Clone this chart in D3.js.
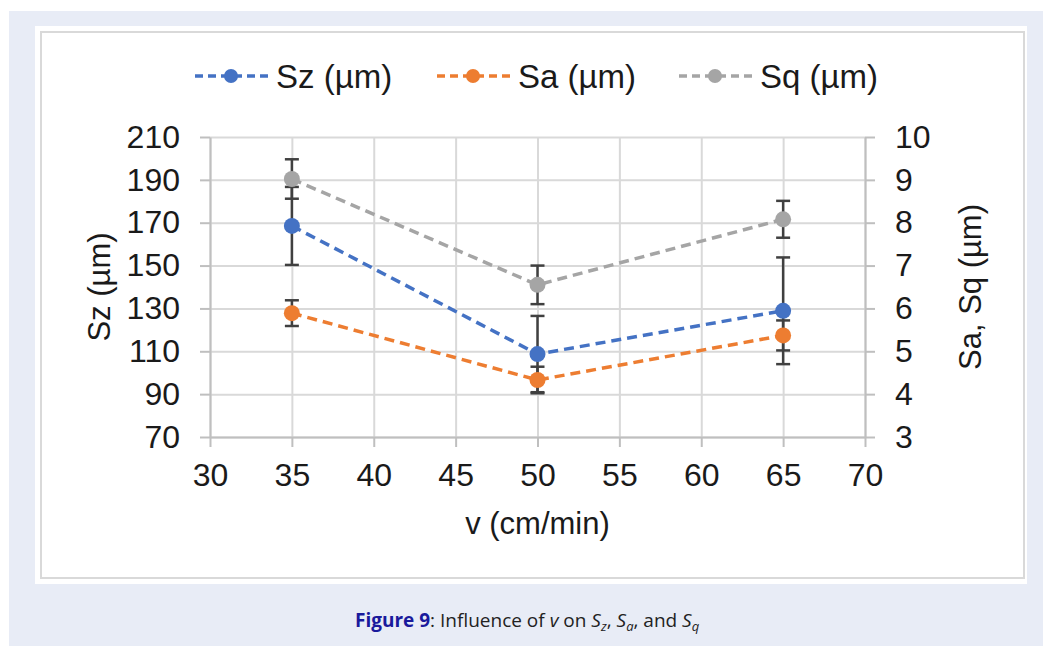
<!DOCTYPE html>
<html>
<head>
<meta charset="utf-8">
<script src="https://cdn.jsdelivr.net/npm/d3@7"></script>
<style>
  html, body { margin: 0; padding: 0; background: #ffffff; }
  svg text { font-family: "Liberation Sans", Arial, sans-serif; }
  .caption { font-family: "Open Sans", "Noto Sans", sans-serif; }
</style>
</head>
<body>
<div id="chart"></div>
<script>

// data
var speeds = [35, 50, 65];
var szVals = [168.5, 108.7, 128.9];
var szErr  = [18.2, 17.8, 24.9];
var saVals = [5.89, 4.33, 5.37];
var saErr  = [0.30, 0.31, 0.35];
var sqVals = [9.02, 6.55, 8.08];
var sqErr  = [0.46, 0.45, 0.43];

var xTicks = [30, 35, 40, 45, 50, 55, 60, 65, 70];
var yLeftTicks = [70, 90, 110, 130, 150, 170, 190, 210];
var yRightTicks = [3, 4, 5, 6, 7, 8, 9, 10];

var seriesNames = ["Sz (\u00b5m)", "Sa (\u00b5m)", "Sq (\u00b5m)"];
var seriesColors = ["#4472C4", "#ED7D31", "#A5A5A5"];

var W = 1043, H = 646;
var plot = {left: 210, right: 865, top: 137, bottom: 437};

var svg = d3.select("#chart").append("svg")
    .attr("width", W)
    .attr("height", H);

// page background and figure box
svg.append("rect").attr("x", 9).attr("y", 11)
    .attr("width", W - 9).attr("height", H - 11).attr("fill", "#e8ecf6");
svg.append("rect").attr("x", 35).attr("y", 26)
    .attr("width", 992).attr("height", 558).attr("fill", "#ffffff");
svg.append("rect").attr("x", 41).attr("y", 32)
    .attr("width", 983).attr("height", 546)
    .attr("fill", "none").attr("stroke", "#d9d9d9").attr("stroke-width", 2);

// scales
var xScale = d3.scaleLinear().domain([30, 70]).range([plot.left, plot.right]);
var yLeft = d3.scaleLinear().domain([70, 210]).range([plot.bottom, plot.top]);
var yRight = d3.scaleLinear().domain([3, 10]).range([plot.bottom, plot.top]);

// gridlines
svg.append("g").attr("class", "grid")
    .attr("transform", "translate(0," + plot.bottom + ")")
    .call(d3.axisBottom(xScale).tickValues(xTicks)
        .tickSize(-(plot.bottom - plot.top)).tickFormat(""));
svg.append("g").attr("class", "grid")
    .attr("transform", "translate(" + plot.left + ",0)")
    .call(d3.axisLeft(yLeft).tickValues(yLeftTicks)
        .tickSize(-(plot.right - plot.left)).tickFormat(""));
svg.selectAll(".grid .domain").remove();
svg.selectAll(".grid line").attr("stroke", "#d9d9d9").attr("stroke-width", 2);

// axes
var axisColor = "#bfbfbf";
function styleAxis(g) {
    g.select(".domain").attr("stroke", axisColor).attr("stroke-width", 2);
    g.selectAll(".tick line").attr("stroke", axisColor).attr("stroke-width", 2);
    g.selectAll(".tick text")
        .attr("fill", "#1a1a1a")
        .style("font-size", "32px")
        .style("font-family", "'Liberation Sans', Arial, sans-serif");
}

var xAxisG = svg.append("g")
    .attr("transform", "translate(0," + plot.bottom + ")")
    .call(d3.axisBottom(xScale).tickValues(xTicks).tickSize(10)
        .tickSizeOuter(0).tickPadding(16));
styleAxis(xAxisG);

var yAxisL = svg.append("g")
    .attr("transform", "translate(" + plot.left + ",0)")
    .call(d3.axisLeft(yLeft).tickValues(yLeftTicks).tickSize(10)
        .tickSizeOuter(0).tickPadding(20));
styleAxis(yAxisL);

var yAxisR = svg.append("g")
    .attr("transform", "translate(" + plot.right + ",0)")
    .call(d3.axisRight(yRight).tickValues(yRightTicks).tickSize(10)
        .tickFormat(d3.format("d"))
        .tickSizeOuter(0).tickPadding(20));
styleAxis(yAxisR);

// axis titles
svg.append("text")
    .attr("transform", "translate(110,287) rotate(-90)")
    .attr("text-anchor", "middle")
    .attr("fill", "#1a1a1a")
    .style("font-size", "31px")
    .text("Sz (\u00b5m)");

svg.append("text")
    .attr("transform", "translate(981,287) rotate(-90)")
    .attr("text-anchor", "middle")
    .attr("fill", "#1a1a1a")
    .style("font-size", "31px")
    .text("Sa, Sq (\u00b5m)");

svg.append("text")
    .attr("x", (plot.left + plot.right) / 2)
    .attr("y", 534)
    .attr("text-anchor", "middle")
    .attr("fill", "#1a1a1a")
    .style("font-size", "31px")
    .text("v (cm/min)");

// series table built from the arrays
var series = [
    {name: seriesNames[0], color: seriesColors[0], y: yLeft,  vals: szVals, err: szErr},
    {name: seriesNames[1], color: seriesColors[1], y: yRight, vals: saVals, err: saErr},
    {name: seriesNames[2], color: seriesColors[2], y: yRight, vals: sqVals, err: sqErr}
];

// error bars (below lines and markers)
var errColor = "#404040";
var capHalf = 7;
series.forEach(function(s) {
    var eg = svg.append("g").attr("class", "errbars");
    speeds.forEach(function(v, i) {
        var x = xScale(v);
        var y1 = s.y(s.vals[i] + s.err[i]);
        var y2 = s.y(s.vals[i] - s.err[i]);
        eg.append("line").attr("x1", x).attr("x2", x).attr("y1", y1).attr("y2", y2)
            .attr("stroke", errColor).attr("stroke-width", 2.5);
        [y1, y2].forEach(function(yy) {
            eg.append("line").attr("x1", x - capHalf).attr("x2", x + capHalf)
                .attr("y1", yy).attr("y2", yy)
                .attr("stroke", errColor).attr("stroke-width", 2.5);
        });
    });
});

// dashed lines and markers
series.forEach(function(s) {
    var line = d3.line()
        .x(function(d, i) { return xScale(speeds[i]); })
        .y(function(d) { return s.y(d); });
    svg.append("path")
        .datum(s.vals)
        .attr("d", line)
        .attr("fill", "none")
        .attr("stroke", s.color)
        .attr("stroke-width", 3.5)
        .attr("stroke-dasharray", "10,6");
});
series.forEach(function(s) {
    svg.append("g").selectAll("circle")
        .data(s.vals)
        .enter().append("circle")
        .attr("cx", function(d, i) { return xScale(speeds[i]); })
        .attr("cy", function(d) { return s.y(d); })
        .attr("r", 8)
        .attr("fill", s.color);
});

// legend
var legendX = [195, 437, 679];
var legend = svg.append("g").attr("class", "legend");
series.forEach(function(s, i) {
    var lx = legendX[i];
    var g = legend.append("g").attr("transform", "translate(" + lx + ",76)");
    g.append("line").attr("x1", 0).attr("x2", 74).attr("y1", 0).attr("y2", 0)
        .attr("stroke", s.color).attr("stroke-width", 3.5)
        .attr("stroke-dasharray", "8,5");
    g.append("circle").attr("cx", 36).attr("cy", 0).attr("r", 7)
        .attr("fill", s.color);
    g.append("text").attr("x", 81).attr("y", 12)
        .attr("fill", "#1a1a1a")
        .style("font-size", "33px")
        .text(s.name);
});

// caption
var cap = svg.append("text")
    .attr("class", "caption")
    .attr("x", 355)
    .attr("y", 627)
    .style("font-size", "19px")
    .attr("fill", "#222222");
cap.append("tspan").attr("font-weight", "bold").attr("fill", "#1a1a9c").text("Figure 9");
cap.append("tspan").text(": Influence of ");
cap.append("tspan").attr("font-style", "italic").text("v");
cap.append("tspan").text(" on ");
cap.append("tspan").attr("font-style", "italic").text("S");
cap.append("tspan").attr("font-style", "italic").attr("dy", 4).style("font-size", "13px").text("z");
cap.append("tspan").attr("dy", -4).text(", ");
cap.append("tspan").attr("font-style", "italic").text("S");
cap.append("tspan").attr("font-style", "italic").attr("dy", 4).style("font-size", "13px").text("a");
cap.append("tspan").attr("dy", -4).text(", and ");
cap.append("tspan").attr("font-style", "italic").text("S");
cap.append("tspan").attr("font-style", "italic").attr("dy", 4).style("font-size", "13px").text("q");

</script>
</body>
</html>
